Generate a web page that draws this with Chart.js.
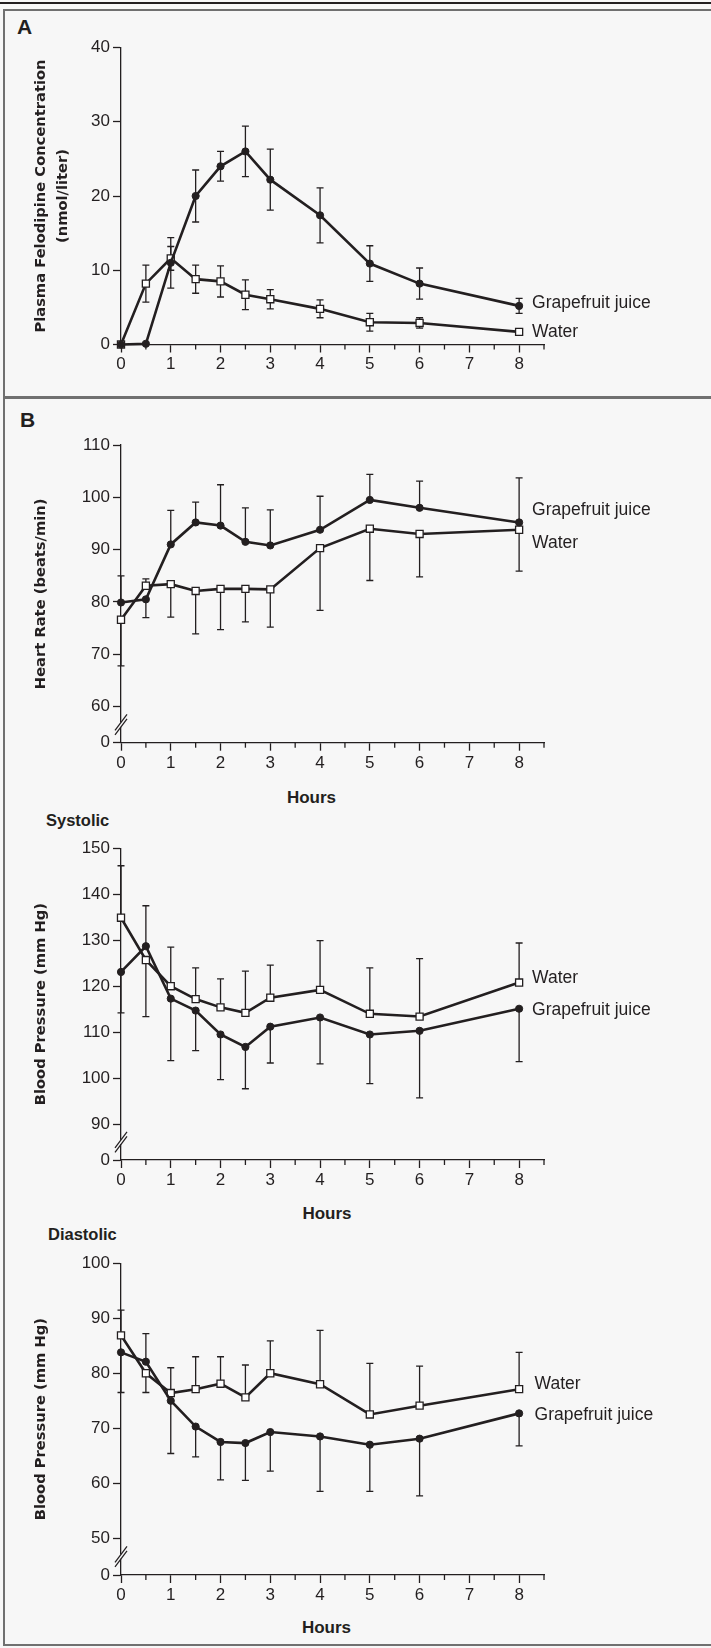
<!DOCTYPE html>
<html>
<head>
<meta charset="utf-8">
<script src="https://cdn.jsdelivr.net/npm/chart.js@4.4.0/dist/chart.umd.min.js"></script>
<style>
  body { margin: 0; background: #f7f7f7; }
  #page { position: relative; width: 711px; height: 1648px; overflow: hidden; background: #f7f7f7;
          font-family: 'Liberation Sans', Arial, sans-serif; color: #231f20; }
  canvas { position: absolute; left: 0; }
  .lbl { position: absolute; line-height: 1; white-space: nowrap; transform: translateY(-50%); }
  .ctr { transform: translate(-50%, -50%); }
</style>
</head>
<body>
<div id="page">
  <div style="position:absolute;left:0;top:2px;width:711px;height:2px;background:#231f20"></div>
  <div style="position:absolute;left:3px;top:9px;width:800px;height:1633px;border:2.5px solid #707070"></div>
  <div style="position:absolute;left:3px;top:396px;width:800px;height:2.5px;background:#707070"></div>

  <div class="lbl" style="left:17px;top:26px;font-weight:bold;font-size:21px">A</div>
  <div class="lbl" style="left:20px;top:419px;font-weight:bold;font-size:21px">B</div>
  <div class="lbl" style="left:46px;top:820px;font-weight:bold;font-size:16.5px">Systolic</div>
  <div class="lbl" style="left:48px;top:1234px;font-weight:bold;font-size:16.5px">Diastolic</div>
  <div class="lbl ctr" style="left:311.5px;top:797px;font-weight:bold;font-size:17px">Hours</div>
  <div class="lbl ctr" style="left:327px;top:1213px;font-weight:bold;font-size:17px">Hours</div>
  <div class="lbl ctr" style="left:326.5px;top:1627px;font-weight:bold;font-size:17px">Hours</div>

  <canvas id="felChart" width="711" height="392" style="top:0"></canvas>
  <canvas id="hrChart" width="711" height="390" style="top:400px"></canvas>
  <canvas id="sbpChart" width="711" height="400" style="top:810px"></canvas>
  <canvas id="dbpChart" width="711" height="400" style="top:1225px"></canvas>
</div>

<script>
// sampling times (hours)
const hours = [0, 0.5, 1, 1.5, 2, 2.5, 3, 4, 5, 6, 8];

// A: plasma felodipine (nmol/liter), mean and SD
const felGrape   = [0, 0.1, 11.0, 20.0, 24.0, 26.0, 22.2, 17.4, 10.9, 8.2, 5.2];
const felGrapeSD = [0, 0, 3.4, 3.5, 2.0, 3.4, 4.1, 3.7, 2.4, 2.1, 1.0];
const felWater   = [0, 8.2, 11.6, 8.8, 8.5, 6.7, 6.1, 4.8, 3.0, 2.9, 1.7];
const felWaterSD = [0, 2.5, 1.6, 1.9, 2.1, 2.0, 1.3, 1.2, 1.2, 0.7, 0.3];
const felTicks = [0, 10, 20, 30, 40];

// B: heart rate (beats/min)
const hrGrape   = [79.9, 80.5, 91.0, 95.2, 94.6, 91.5, 90.8, 93.8, 99.5, 98.0, 95.2];
const hrGrapeSD = [5.1, 3.5, 6.5, 3.9, 7.8, 6.5, 6.8, 6.4, 4.9, 5.1, 8.5];
const hrWater   = [76.6, 83.1, 83.4, 82.1, 82.5, 82.5, 82.4, 90.3, 94.0, 93.0, 93.8];
const hrWaterSD = [8.8, 1.3, 6.3, 8.2, 7.8, 6.3, 7.2, 11.9, 9.9, 8.2, 7.9];
const hrTicks = [60, 70, 80, 90, 100, 110];

// systolic blood pressure (mm Hg)
const sbpGrape   = [123.1, 128.7, 117.3, 114.7, 109.5, 106.8, 111.2, 113.2, 109.5, 110.3, 115.1];
const sbpGrapeSD = [8.9, 8.8, 13.5, 8.7, 9.8, 9.1, 7.9, 10.1, 10.7, 14.6, 11.5];
const sbpWater   = [134.9, 125.7, 120.0, 117.2, 115.4, 114.2, 117.5, 119.2, 114.0, 113.4, 120.8];
const sbpWaterSD = [11.3, 12.3, 8.5, 6.8, 6.2, 9.1, 7.1, 10.7, 10.0, 12.6, 8.6];
const sbpTicks = [90, 100, 110, 120, 130, 140, 150];

// diastolic blood pressure (mm Hg)
const dbpGrape   = [83.8, 82.1, 75.0, 70.3, 67.5, 67.3, 69.3, 68.5, 67.0, 68.1, 72.7];
const dbpGrapeSD = [7.3, 5.1, 9.6, 5.5, 6.9, 6.8, 7.1, 10.0, 8.5, 10.4, 5.9];
const dbpWater   = [86.9, 80.0, 76.4, 77.1, 78.1, 75.6, 80.0, 78.0, 72.5, 74.1, 77.1];
const dbpWaterSD = [4.6, 3.5, 4.6, 5.9, 4.9, 5.9, 5.9, 9.8, 9.3, 7.2, 6.7];
const dbpTicks = [50, 60, 70, 80, 90, 100];

const INK = '#231f20';
const BG = '#f7f7f7';
const SANS = "'Liberation Sans', Arial, sans-serif";

const pts = vals => hours.map((h, i) => ({x: h, y: vals[i]}));

// SD whiskers; one-sided panels point away from the other series
const errorBars = {
  id: 'errorBars',
  beforeDatasetsDraw(chart, args, opts) {
    const {ctx, scales: {x, y}} = chart;
    const sets = chart.data.datasets;
    ctx.save();
    ctx.strokeStyle = INK;
    ctx.lineWidth = 1.3;
    sets.forEach((ds, k) => {
      const other = sets[1 - k];
      ds.errors.forEach((e, i) => {
        if (!e) return;
        const v = ds.data[i].y;
        const px = x.getPixelForValue(ds.data[i].x);
        const ends = opts.twoSided ? [v + e, v - e] : [v >= other.data[i].y ? v + e : v - e];
        ends.forEach(end => {
          const p0 = y.getPixelForValue(v), p1 = y.getPixelForValue(end);
          ctx.beginPath();
          ctx.moveTo(px, p0); ctx.lineTo(px, p1);
          ctx.moveTo(px - 3.5, p1); ctx.lineTo(px + 3.5, p1);
          ctx.stroke();
        });
      });
    });
    ctx.restore();
  }
};

const seriesLabels = {
  id: 'seriesLabels',
  afterDatasetsDraw(chart, args, opts) {
    const {ctx, scales: {x, y}} = chart;
    ctx.save();
    ctx.fillStyle = INK;
    ctx.font = '17.5px ' + SANS;
    ctx.textAlign = 'left';
    ctx.textBaseline = 'middle';
    opts.items.forEach(it => ctx.fillText(it.text, x.getPixelForValue(it.x), y.getPixelForValue(it.y)));
    ctx.restore();
  }
};

// short ticks at the half hours, break marks on the value axis
const axisExtras = {
  id: 'axisExtras',
  afterDraw(chart, args, opts) {
    const {ctx, scales: {x, y}} = chart;
    ctx.save();
    ctx.strokeStyle = INK;
    ctx.lineWidth = 1.3;
    x.ticks.forEach(t => {
      if (Number.isInteger(t.value)) return;
      const px = x.getPixelForValue(t.value);
      ctx.beginPath(); ctx.moveTo(px, x.top); ctx.lineTo(px, x.top + 5); ctx.stroke();
    });
    if (opts.broken) {
      const ax = chart.chartArea.left;
      const cy = (y.getPixelForValue(y.min) + y.getPixelForValue(y.ticks[1].value)) / 2;
      ctx.fillStyle = BG;
      ctx.fillRect(ax - 2, cy - 2.2, 4, 4.4);
      [-2.2, 2.2].forEach(d => {
        ctx.beginPath();
        ctx.moveTo(ax - 6, cy + d + 8);
        ctx.lineTo(ax + 6, cy + d - 8);
        ctx.stroke();
      });
    }
    ctx.restore();
  }
};

function makeChart(id, cfg) {
  const yMin = cfg.yMin;
  const tickVals = cfg.broken ? [yMin].concat(cfg.ticks) : cfg.ticks;
  return new Chart(document.getElementById(id), {
    type: 'line',
    data: {
      datasets: [
        { label: 'Grapefruit juice', data: pts(cfg.grape), errors: cfg.grapeSD,
          borderColor: INK, borderWidth: 2.6, tension: 0, clip: false,
          pointStyle: 'circle', pointRadius: 3.6, pointBorderWidth: 1,
          pointBackgroundColor: INK, pointBorderColor: INK },
        { label: 'Water', data: pts(cfg.water), errors: cfg.waterSD,
          borderColor: INK, borderWidth: 2.6, tension: 0, clip: false,
          pointStyle: 'rect', pointRadius: 5, pointBorderWidth: 1.3,
          pointBackgroundColor: '#fff', pointBorderColor: INK }
      ]
    },
    options: {
      responsive: false,
      animation: false,
      events: [],
      layout: { padding: { top: cfg.padTop, bottom: cfg.padBottom, left: 0, right: 167 } },
      plugins: {
        legend: { display: false },
        tooltip: { enabled: false },
        errorBars: { twoSided: !!cfg.twoSided },
        seriesLabels: { items: cfg.labels },
        axisExtras: { broken: !!cfg.broken }
      },
      scales: {
        x: {
          type: 'linear', min: 0, max: 8.5,
          afterFit: s => { s.height = 45; },
          border: { color: INK, width: 1.3 },
          grid: { drawOnChartArea: false, tickLength: 8, tickWidth: 1.3,
                  tickColor: c => Number.isInteger(c.tick.value) ? INK : 'rgba(0,0,0,0)' },
          ticks: { stepSize: 0.5, autoSkip: false, maxRotation: 0, padding: 2, color: INK,
                   font: { family: SANS, size: 17 },
                   callback: v => Number.isInteger(v) ? v : '' }
        },
        y: {
          min: yMin, max: cfg.ticks[cfg.ticks.length - 1],
          afterFit: s => { s.width = 121; },
          afterBuildTicks: s => { s.ticks = tickVals.map(v => ({ value: v })); },
          border: { color: INK, width: 1.3 },
          grid: { drawOnChartArea: false, tickLength: 8, tickWidth: 1.3, tickColor: INK },
          ticks: { padding: 3, color: INK, font: { family: SANS, size: 17 },
                   callback: v => (cfg.broken && v === yMin) ? '0' : v },
          title: { display: true, text: cfg.title, color: INK,
                   font: { family: "'DejaVu Sans', sans-serif", size: 14.7, weight: 'bold', lineHeight: 1.5 },
                   padding: { top: cfg.titlePad, bottom: 0 } }
        }
      }
    },
    plugins: [errorBars, seriesLabels, axisExtras]
  });
}

makeChart('felChart', {
  grape: felGrape, grapeSD: felGrapeSD, water: felWater, waterSD: felWaterSD,
  ticks: felTicks, yMin: 0, twoSided: true,
  title: ['Plasma Felodipine Concentration', '(nmol/liter)'], titlePad: 30.5,
  padTop: 47.5, padBottom: 2.5,
  labels: [{ text: 'Grapefruit juice', x: 8.26, y: 5.6 }, { text: 'Water', x: 8.26, y: 1.64 }]
});

makeChart('hrChart', {
  grape: hrGrape, grapeSD: hrGrapeSD, water: hrWater, waterSD: hrWaterSD,
  ticks: hrTicks, yMin: 53.1, broken: true,
  title: 'Heart Rate (beats/min)', titlePad: 30,
  padTop: 45, padBottom: 2.3,
  labels: [{ text: 'Grapefruit juice', x: 8.26, y: 97.6 }, { text: 'Water', x: 8.26, y: 91.3 }]
});

makeChart('sbpChart', {
  grape: sbpGrape, grapeSD: sbpGrapeSD, water: sbpWater, waterSD: sbpWaterSD,
  ticks: sbpTicks, yMin: 82.2, broken: true,
  title: 'Blood Pressure (mm Hg)', titlePad: 30,
  padTop: 38.3, padBottom: 5,
  labels: [{ text: 'Water', x: 8.26, y: 121.8 }, { text: 'Grapefruit juice', x: 8.26, y: 114.8 }]
});

makeChart('dbpChart', {
  grape: dbpGrape, grapeSD: dbpGrapeSD, water: dbpWater, waterSD: dbpWaterSD,
  ticks: dbpTicks, yMin: 43.3, broken: true,
  title: 'Blood Pressure (mm Hg)', titlePad: 30,
  padTop: 38.3, padBottom: 5,
  labels: [{ text: 'Water', x: 8.31, y: 78.1 }, { text: 'Grapefruit juice', x: 8.31, y: 72.3 }]
});
</script>
</body>
</html>
